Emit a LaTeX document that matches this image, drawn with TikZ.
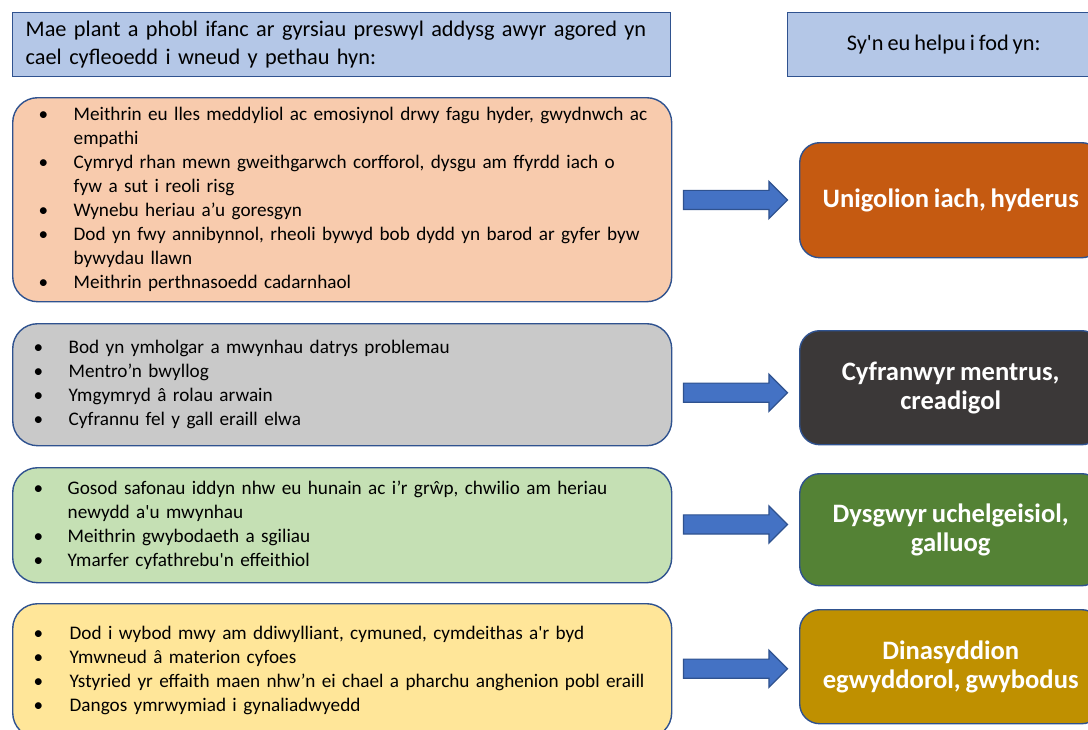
\documentclass[tikz,border=0pt]{standalone}
\usepackage{fontspec}
\setmainfont{Carlito}[WordSpace=0.8]
\usetikzlibrary{shapes.arrows,positioning}

\definecolor{hdrblue}{HTML}{B4C7E7}
\definecolor{edgeblue}{HTML}{2F528F}
\definecolor{arrowblue}{HTML}{4472C4}
\definecolor{peach}{HTML}{F8CBAD}
\definecolor{lightgrey}{HTML}{C9C9C9}
\definecolor{lightgreen}{HTML}{C5E0B4}
\definecolor{lightyellow}{HTML}{FFE699}
\definecolor{rust}{HTML}{C55A11}
\definecolor{charcoal}{HTML}{3B3838}
\definecolor{leaf}{HTML}{548235}
\definecolor{mustard}{HTML}{BF9000}

\newcommand{\bl}{\textbullet}
\newcommand{\sq}{\textquotesingle}

\tikzset{
  hdrbox/.style={rectangle, draw=edgeblue, fill=hdrblue, line width=0.7pt, anchor=north west,
    inner ysep=0pt, minimum height=32pt, font=\fontsize{11.15}{14}\selectfont},
  listbox/.style={rectangle, draw=edgeblue, line width=0.7pt, rounded corners=12.5pt, anchor=north west,
    inner ysep=0pt, inner xsep=10.5pt, text width=308.5pt, align=left, minimum width=329.5pt,
    font=\fontsize{9.6}{12}\selectfont},
  goalbox/.style={rectangle, draw=edgeblue, line width=0.7pt, rounded corners=10pt, anchor=north west,
    minimum width=151pt, text=white, align=center, font=\fontsize{13.3}{14.5}\selectfont\bfseries},
  bigarrow/.style={single arrow, draw=edgeblue, fill=arrowblue, line width=0.6pt, inner xsep=0pt,
    inner ysep=4.5pt, minimum height=52pt, minimum width=18pt, single arrow head extend=4.5pt,
    single arrow head indent=0pt, xshift=-2.5pt}
}

\begin{document}
\begin{tikzpicture}[x=0.5pt, y=-0.5pt]
    \useasboundingbox (0,0) rectangle (1088,729);
    \clip (0,0) rectangle (1088,729);

    % Headers
    \node (hdr) [hdrbox, inner xsep=6.5pt, text width=316pt, align=left] at (12,12)
        {\begin{tabular}{@{}l@{}}Mae plant a phobl ifanc ar gyrsiau preswyl addysg awyr agored yn\\
         cael cyfleoedd i wneud y pethau hyn:\end{tabular}};
    \node (hdr2) [hdrbox, minimum width=156pt] at (787,12) {Sy\sq n eu helpu i fod yn:};

    % Opportunities
    \node (p1) [listbox, fill=peach, inner xsep=13pt, text width=303.5pt, minimum height=102pt] at (12,97)
        {\begin{tabular}{@{}p{17.5pt}@{}l@{}}
         \bl & Meithrin eu lles meddyliol ac emosiynol drwy fagu hyder, gwydnwch ac\\
             & empathi\\
         \bl & Cymryd rhan mewn gweithgarwch corfforol, dysgu am ffyrdd iach o\\
             & fyw a sut i reoli risg\\
         \bl & Wynebu heriau a’u goresgyn\\
         \bl & Dod yn fwy annibynnol, rheoli bywyd bob dydd yn barod ar gyfer byw\\
             & bywydau llawn\\
         \bl & Meithrin perthnasoedd cadarnhaol
         \end{tabular}};
    \node (p2) [listbox, fill=lightgrey, minimum height=61pt] at (12,323)
        {\begin{tabular}{@{}p{17.5pt}@{}l@{}}
         \bl & Bod yn ymholgar a mwynhau datrys problemau\\
         \bl & Mentro’n bwyllog\\
         \bl & Ymgymryd â rolau arwain\\
         \bl & Cyfrannu fel y gall eraill elwa
         \end{tabular}};
    \node (p3) [listbox, fill=lightgreen, minimum height=57.5pt] at (12,467)
        {\begin{tabular}{@{}p{17pt}@{}l@{}}
         \bl & Gosod safonau iddyn nhw eu hunain ac i’r grŵp, chwilio am heriau\\
             & newydd a\sq u mwynhau\\
         \bl & Meithrin gwybodaeth a sgiliau\\
         \bl & Ymarfer cyfathrebu\sq n effeithiol
         \end{tabular}};
    \node (p4) [listbox, fill=lightyellow, minimum height=67pt] at (12,603)
        {\begin{tabular}{@{}p{18pt}@{}l@{}}
         \bl & Dod i wybod mwy am ddiwylliant, cymuned, cymdeithas a\sq r byd\\
         \bl & Ymwneud â materion cyfoes\\
         \bl & Ystyried yr effaith maen nhw’n ei chael a pharchu anghenion pobl eraill\\
         \bl & Dangos ymrwymiad i gynaliadwyedd
         \end{tabular}};

    % Outcomes
    \node (r1) [goalbox, fill=rust, minimum height=57.5pt] at (799,142) {Unigolion iach, hyderus};
    \node (r2) [goalbox, fill=charcoal, minimum height=57pt] at (799,330) {Cyfranwyr mentrus,\\creadigol};
    \node (r3) [goalbox, fill=leaf, minimum height=56pt] at (799,473) {Dysgwyr uchelgeisiol,\\galluog};
    \node (r4) [goalbox, fill=mustard, minimum height=57pt] at (799,609) {Dinasyddion\\egwyddorol, gwybodus};

    % Arrows
    \path (p1.east) -- (r1.west) node[midway, bigarrow] {};
    \path (p2.east) -- (r2.west) node[midway, bigarrow, yshift=-3.25pt] {};
    \path (p3.east) -- (r3.west) node[midway, bigarrow, yshift=1.5pt] {};
    \path (p4.east) -- (r4.west) node[midway, bigarrow] {};
\end{tikzpicture}
\end{document}
